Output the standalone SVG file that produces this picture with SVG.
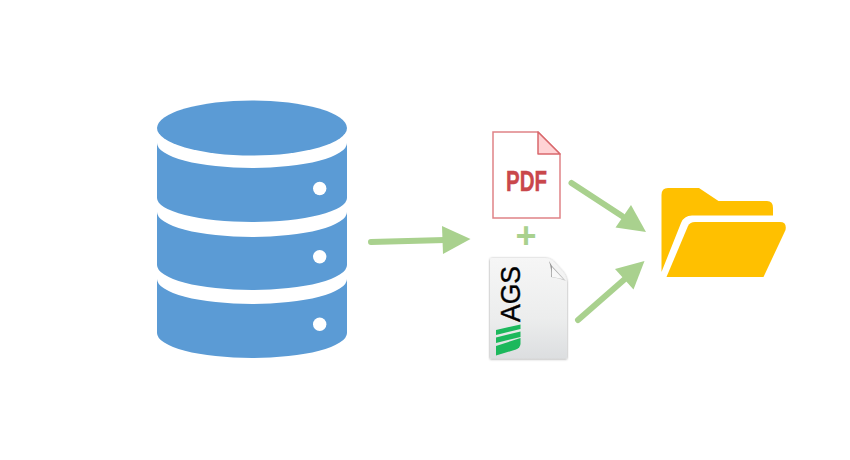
<svg xmlns="http://www.w3.org/2000/svg" width="850" height="460" viewBox="0 0 850 460">
<defs>
<linearGradient id="page" x1="0" y1="0" x2="0" y2="1"><stop offset="0" stop-color="#f6f6f6"/><stop offset="0.6" stop-color="#eceded"/><stop offset="1" stop-color="#dcdee0"/></linearGradient>
<linearGradient id="fold" x1="0" y1="0" x2="1" y2="1"><stop offset="0" stop-color="#8a8a8a"/><stop offset="1" stop-color="#d0d0d0"/></linearGradient>
<filter id="soft" x="-10%" y="-10%" width="120%" height="120%"><feDropShadow dx="0" dy="0.5" stdDeviation="0.8" flood-color="#000" flood-opacity="0.45"/></filter>
</defs>
<style>
.db{fill:#5b9bd5}.hole{fill:#fff}.folder{fill:#ffc000}
.arrow{fill:none;stroke:#a9d18e;stroke-width:6;stroke-linecap:round}
.head{fill:#a9d18e}
.stripe{fill:#1cb85c}
text{font-family:"Liberation Sans",Arial,sans-serif}
</style>
<rect width="850" height="460" fill="#fff"/>
<g id="database">
<ellipse class="db" cx="252" cy="128" rx="95" ry="27.500"/>
<path class="db" d="M157 143A95 25 0 0 0 347 143V198A95 24 0 0 1 157 198Z"/>
<path class="db" d="M157 212A95 25 0 0 0 347 212V265A95 25 0 0 1 157 265Z"/>
<path class="db" d="M157 279A95 25 0 0 0 347 279V333A95 25 0 0 1 157 333Z"/>
<circle class="hole" cx="319.700" cy="188.500" r="6.700"/>
<circle class="hole" cx="319.700" cy="256.700" r="6.700"/>
<circle class="hole" cx="319.700" cy="324.300" r="6.700"/>
</g>
<g id="pdf-file">
<path d="M493 132H538L560 154V218H493Z" fill="#fff" stroke="#e08286" stroke-width="1.500"/>
<path d="M538 132V154H560Z" fill="#ffd3d5" stroke="#d9686c" stroke-width="1.500" stroke-linejoin="round"/>
<text x="506" y="190.500" font-size="30" font-weight="700" fill="#c9474b" stroke="#c9474b" stroke-width="0.400" textLength="41" lengthAdjust="spacingAndGlyphs">PDF</text>
</g>
<g id="plus"><text x="526" y="247.500" font-size="36" font-weight="700" fill="#a9d18e" text-anchor="middle">+</text></g>
<g id="ags-file">
<path d="M492 258H545Q550 258 554 262L563 272Q567 277 567 283V358.500H490V260Q490 258 492 258Z" fill="url(#page)" filter="url(#soft)"/>
<path d="M549 261Q552 270 551 277Q559 278 566 281L552 266Z" fill="url(#fold)"/>
<path d="M552 267L563 279L552 277Z" fill="#f8f8f8"/>
<text transform="translate(520 322) rotate(-90)" font-size="28" fill="#000" stroke="#000" stroke-width="0.400" textLength="56" lengthAdjust="spacingAndGlyphs">AGS</text>
<path class="stripe" d="M496 330L520.500 324.500V329L496 335Z"/>
<path class="stripe" d="M496 337.500L520.500 331.500V337L496 343Z"/>
<path class="stripe" d="M496 346L520.500 338V344Q520 348 516 349.500L496 355.500Z"/>
</g>
<g id="folder">
<path class="folder" d="M661.500 195Q661.500 188 668 188H699L718.500 201H767Q773 201 773 208V215.500H692Q684 215.500 681 223L661.500 272Z"/>
<path class="folder" d="M688 226Q690 222 695 222H780Q787 222 785.500 230L763.500 277H666.500Z"/>
</g>
<g id="connectors">
<path class="arrow" d="M371 242L445 240"/>
<path class="head" d="M442 226L470.500 239L443 254Z"/>
<path class="arrow" d="M571.500 183L622 216"/>
<path class="head" d="M631 205L646 232L615.500 227.500Z"/>
<path class="arrow" d="M578 320L626 278"/>
<path class="head" d="M615 269L644.500 261L633.500 289.500Z"/>
</g>
</svg>
